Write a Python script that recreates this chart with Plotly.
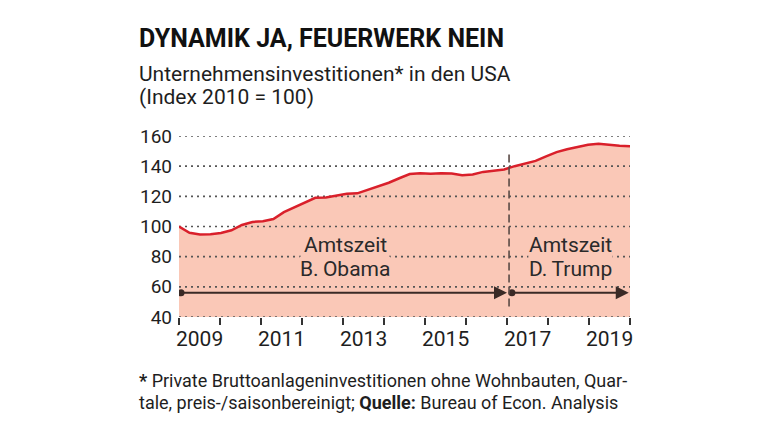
import plotly.graph_objects as go

# ---- data ----
quarters = [f"{y}Q{q}" for y in range(2009, 2020) for q in range(1, 5)]
index_values = [100, 95.8, 94.7, 94.9, 95.7, 97.5, 101, 103, 103.5, 105, 109.5, 112.8,
                116, 119, 119.3, 120.3, 121.7, 122, 124.2, 126.6, 129, 132, 134.8, 135.3,
                135, 135.3, 135.2, 134, 134.5, 136.2, 137.1, 137.8, 140, 141.5, 143.5, 146.5,
                149.3, 151.2, 152.6, 154.2, 154.8, 154, 153.5, 153.2]
y_ticks = [40, 60, 80, 100, 120, 140, 160]
x_tick_labels = ["2009", "2011", "2013", "2015", "2017", "2019"]
term_line1 = ["Amtszeit", "Amtszeit"]
term_line2 = ["B.\u2009Obama", "D.\u2009Trump"]
term_start = [2009.05, 2017.12]
term_end = [2017.0, 2019.97]
inauguration = 2017.05

# quarter positions spread over the 2009-2020 axis span
n = len(quarters)
xq = [2009 + i * 11 / (n - 1) for i in range(n)]

FILL = "#fac8b7"
RED = "#d9202b"
DARK = "#3a2a26"
TXT = "#1e1e1e"
FONT = "Roboto"

OFF = 8  # page body margin
W, H = 760 - OFF, 427 - OFF
L, R, T, B = 179 - OFF, 630 - OFF, 136 - OFF, 317.5 - OFF


def px(x):
    return (x - OFF - L) / (R - L)


def py(y):
    return (B - (y - OFF)) / (B - T)


fig = go.Figure()
fig.add_trace(go.Scatter(x=xq, y=index_values, mode="lines", line=dict(width=0),
                         fill="tozeroy", fillcolor=FILL, hoverinfo="skip", showlegend=False))
for v in y_ticks:
    fig.add_trace(go.Scatter(x=[2009, 2020], y=[v, v], mode="lines",
                             line=dict(color="#555555", width=1.6, dash="2px,4px"),
                             hoverinfo="skip", showlegend=False))
fig.add_trace(go.Scatter(x=xq, y=index_values, mode="lines",
                         line=dict(color=RED, width=2.5), showlegend=False))
fig.add_trace(go.Scatter(x=term_start, y=[56, 56], mode="markers",
                         marker=dict(color=DARK, size=7), showlegend=False, hoverinfo="skip"))

fig.add_shape(type="line", xref="x", yref="y", x0=inauguration, x1=inauguration, y0=47, y1=149.5,
              line=dict(color="#5a4a46", width=1.6, dash="8px,4px"))

ann = []
for s, e in zip(term_start, term_end):
    ann.append(dict(x=e, y=56, ax=s, ay=56, xref="x", yref="y", axref="x", ayref="y",
                    text="", showarrow=True, arrowhead=2, arrowsize=1.3, arrowwidth=2,
                    arrowcolor=DARK))
for l1, l2, xc in zip(term_line1, term_line2, [2013.05, 2018.55]):
    ann.append(dict(x=xc, y=88, xref="x", yref="y", text=l1, showarrow=False,
                    font=dict(family=FONT, size=21, color="#2a2a2a"), bgcolor=FILL,
                    borderpad=0))
    ann.append(dict(x=xc, y=71.5, xref="x", yref="y", text=l2, showarrow=False,
                    font=dict(family=FONT, size=21, color="#2a2a2a"), bgcolor=FILL,
                    borderpad=0))
for lab, yr in zip(x_tick_labels, range(2009, 2020, 2)):
    ann.append(dict(x=yr + 0.5, y=py(340), xref="x", yref="paper", text=lab, showarrow=False,
                    font=dict(family=FONT, size=21, color=TXT), yanchor="middle"))

ann.append(dict(x=px(137), y=py(38), xref="paper", yref="paper", xanchor="left", yanchor="middle",
                text="<b>DYNAMIK JA, FEUERWERK NEIN</b>", showarrow=False,
                font=dict(family=FONT, size=25, color="#111111")))
ann.append(dict(x=px(137), y=py(74), xref="paper", yref="paper", xanchor="left", yanchor="middle",
                text="Unternehmensinvestitionen* in den USA", showarrow=False,
                font=dict(family=FONT, size=21, color=TXT)))
ann.append(dict(x=px(137), y=py(97), xref="paper", yref="paper", xanchor="left", yanchor="middle",
                text="(Index 2010 = 100)", showarrow=False,
                font=dict(family=FONT, size=21, color=TXT)))
ann.append(dict(x=px(137), y=py(381), xref="paper", yref="paper", xanchor="left", yanchor="middle",
                text="<b>*</b> Private Bruttoanlageninvestitionen ohne Wohnbauten, Quar-",
                showarrow=False, font=dict(family=FONT, size=18, color=TXT)))
ann.append(dict(x=px(137), y=py(403), xref="paper", yref="paper", xanchor="left", yanchor="middle",
                text="tale, preis-/saisonbereinigt; <b>Quelle:</b> Bureau of Econ. Analysis",
                showarrow=False, font=dict(family=FONT, size=18, color=TXT)))

fig.update_layout(
    width=W, height=H, margin=dict(l=L, r=W - R, t=T, b=H - B),
    paper_bgcolor="white", plot_bgcolor="white",
    annotations=ann, showlegend=False,
    xaxis=dict(range=[2009, 2020], showgrid=False, zeroline=False, showline=False,
               tickvals=[2009.5], ticktext=[""], ticks="",
               minor=dict(ticks="outside", tick0=2009, dtick=1, ticklen=7, tickwidth=1.5,
                          tickcolor="#333333", showgrid=False)),
    yaxis=dict(range=[40, 160], showgrid=False, zeroline=False, showline=False,
               tickvals=y_ticks, ticks="", ticklabelstandoff=6,
               tickfont=dict(family=FONT, size=19, color=TXT)),
)

fig.write_html("out.html")
